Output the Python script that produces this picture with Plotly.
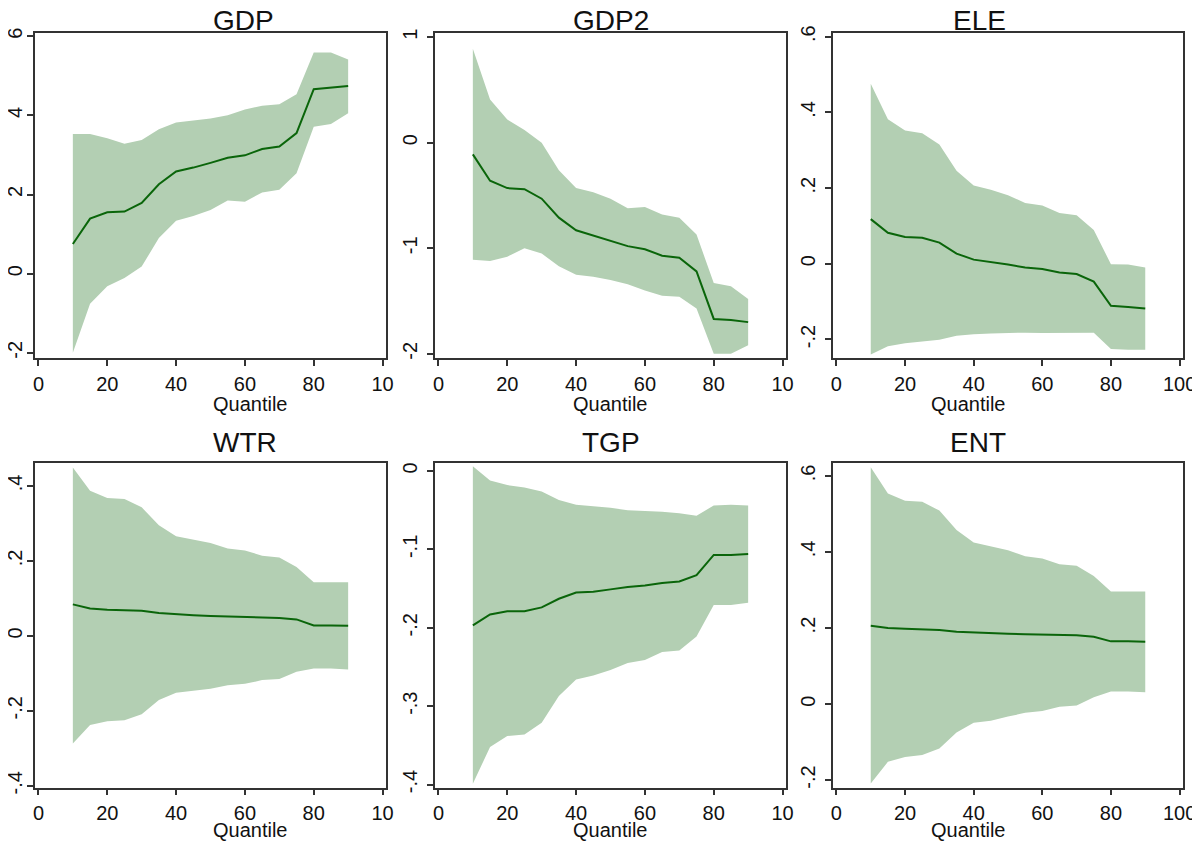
"""
Quantile coefficient plots (6 panels) with confidence bands
"""
import plotly.graph_objects as go

##========[ DATA ]========##
quantiles = [10, 15, 20, 25, 30, 35, 40, 45, 50, 55, 60, 65, 70, 75, 80, 85, 90]
panel_names = ["GDP", "GDP2", "ELE", "WTR", "TGP", "ENT"]

gdp_coef = [0.75, 1.39, 1.55, 1.57, 1.79, 2.26, 2.58, 2.68, 2.80, 2.93, 2.99, 3.15, 3.21, 3.55, 4.66, 4.70, 4.74]
gdp_hi = [3.53, 3.53, 3.42, 3.28, 3.38, 3.65, 3.82, 3.87, 3.92, 4.00, 4.15, 4.24, 4.28, 4.53, 5.59, 5.59, 5.41]
gdp_lo = [-2.00, -0.76, -0.32, -0.11, 0.18, 0.90, 1.34, 1.46, 1.61, 1.85, 1.82, 2.05, 2.12, 2.54, 3.71, 3.78, 4.05]

gdp2_coef = [-0.11, -0.36, -0.43, -0.44, -0.53, -0.71, -0.83, -0.88, -0.93, -0.98, -1.01, -1.07, -1.09, -1.22, -1.67, -1.68, -1.70]
gdp2_hi = [0.89, 0.41, 0.22, 0.12, 0.00, -0.26, -0.43, -0.47, -0.53, -0.62, -0.61, -0.68, -0.71, -0.87, -1.33, -1.36, -1.48]
gdp2_lo = [-1.11, -1.12, -1.08, -1.00, -1.05, -1.17, -1.25, -1.27, -1.30, -1.34, -1.40, -1.45, -1.46, -1.57, -2.00, -2.00, -1.92]

ele_coef = [0.118, 0.082, 0.071, 0.069, 0.056, 0.027, 0.011, 0.005, -0.002, -0.010, -0.014, -0.023, -0.027, -0.047, -0.111, -0.114, -0.118]
ele_hi = [0.476, 0.382, 0.352, 0.345, 0.315, 0.246, 0.207, 0.196, 0.181, 0.161, 0.154, 0.134, 0.128, 0.089, -0.001, -0.002, -0.010]
ele_lo = [-0.240, -0.218, -0.210, -0.206, -0.201, -0.190, -0.186, -0.184, -0.183, -0.182, -0.183, -0.183, -0.182, -0.182, -0.225, -0.227, -0.227]

wtr_coef = [0.084, 0.073, 0.070, 0.069, 0.067, 0.061, 0.057, 0.055, 0.053, 0.052, 0.051, 0.049, 0.048, 0.044, 0.028, 0.028, 0.027]
wtr_hi = [0.449, 0.387, 0.368, 0.365, 0.343, 0.295, 0.266, 0.258, 0.248, 0.233, 0.228, 0.214, 0.209, 0.184, 0.143, 0.143, 0.143]
wtr_lo = [-0.287, -0.238, -0.228, -0.225, -0.209, -0.171, -0.152, -0.147, -0.141, -0.132, -0.128, -0.118, -0.115, -0.096, -0.087, -0.087, -0.090]

tgp_coef = [-0.197, -0.183, -0.179, -0.179, -0.174, -0.163, -0.155, -0.154, -0.151, -0.148, -0.146, -0.143, -0.141, -0.133, -0.107, -0.107, -0.106]
tgp_hi = [0.006, -0.012, -0.018, -0.021, -0.026, -0.037, -0.043, -0.045, -0.047, -0.050, -0.051, -0.052, -0.054, -0.057, -0.044, -0.043, -0.044]
tgp_lo = [-0.399, -0.352, -0.338, -0.336, -0.321, -0.287, -0.266, -0.261, -0.254, -0.245, -0.241, -0.231, -0.229, -0.211, -0.171, -0.171, -0.168]

ent_coef = [0.206, 0.200, 0.198, 0.197, 0.195, 0.190, 0.188, 0.187, 0.185, 0.184, 0.183, 0.182, 0.181, 0.177, 0.165, 0.165, 0.164]
ent_hi = [0.623, 0.554, 0.535, 0.532, 0.509, 0.458, 0.425, 0.416, 0.405, 0.389, 0.383, 0.368, 0.364, 0.337, 0.296, 0.296, 0.296]
ent_lo = [-0.209, -0.152, -0.139, -0.134, -0.117, -0.075, -0.049, -0.044, -0.033, -0.023, -0.018, -0.007, -0.004, 0.018, 0.033, 0.033, 0.031]

# y tick values / labels (Stata style) per panel
ytick_vals = [
    [-2, 0, 2, 4, 6],
    [-2, -1, 0, 1],
    [-0.2, 0, 0.2, 0.4, 0.6],
    [-0.4, -0.2, 0, 0.2, 0.4],
    [-0.4, -0.3, -0.2, -0.1, 0],
    [-0.2, 0, 0.2, 0.4, 0.6],
]
ytick_text = [
    ["-2", "0", "2", "4", "6"],
    ["-2", "-1", "0", "1"],
    ["-.2", "0", ".2", ".4", ".6"],
    ["-.4", "-.2", "0", ".2", ".4"],
    ["-.4", "-.3", "-.2", "-.1", "0"],
    ["-.2", "0", ".2", ".4", ".6"],
]
xtick_vals = [0, 20, 40, 60, 80, 100]
# the right-most label is cut off by the neighbouring panel in the first two columns
xtick_text_cut = ["0", "20", "40", "60", "80", "10"]
xtick_text_full = ["0", "20", "40", "60", "80", "100"]

##========[ LAYOUT ]========##
coefs = [gdp_coef, gdp2_coef, ele_coef, wtr_coef, tgp_coef, ent_coef]
highs = [gdp_hi, gdp2_hi, ele_hi, wtr_hi, tgp_hi, ent_hi]
lows = [gdp_lo, gdp2_lo, ele_lo, wtr_lo, tgp_lo, ent_lo]
yranges = [[-2.13, 6.08], [-2.04, 1.04], [-0.249, 0.61], [-0.405, 0.462], [-0.404, 0.0106], [-0.22, 0.635]]

# the page has an 8px body margin, so the figure is 8px smaller than the window
OFF = 8
W, H = 1200 - OFF, 843 - OFF
col_px = [(35 - OFF, 386 - OFF), (435 - OFF, 786 - OFF), (833 - OFF, 1183 - OFF)]
row_px = [(33 - OFF, 358 - OFF), (462.7 - OFF, 787.7 - OFF)]
title_mid = [12, 442.5 - OFF]          # vertical centre of the panel titles
xlab_bottom = [417 - OFF, H]           # bottom of the "Quantile" label box
ylab_standoff = [-3, 2, 2]

BAND = "#b3cfb3"
LINE = "#0a650a"
FRAME = "#333333"
TXT = "#111111"
FONT = "Liberation Sans, Arial, sans-serif"

fig = go.Figure()

for i, name in enumerate(panel_names):
	r, c = divmod(i, 3)
	n = i + 1
	xa = "x" if n == 1 else f"x{n}"
	ya = "y" if n == 1 else f"y{n}"

	# confidence band
	fig.add_trace(go.Scatter(x=quantiles, y=lows[i], mode="lines", line=dict(width=0),
		xaxis=xa, yaxis=ya, showlegend=False, hoverinfo="skip"))
	fig.add_trace(go.Scatter(x=quantiles, y=highs[i], mode="lines", line=dict(width=0),
		fill="tonexty", fillcolor=BAND, xaxis=xa, yaxis=ya, showlegend=False, hoverinfo="skip"))
	# point estimate
	fig.add_trace(go.Scatter(x=quantiles, y=coefs[i], mode="lines", line=dict(color=LINE, width=2),
		xaxis=xa, yaxis=ya, showlegend=False))

	x0, x1 = col_px[c]
	y0, y1 = row_px[r]
	axis_style = dict(showline=True, linecolor=FRAME, linewidth=1.5, mirror=True, showgrid=False,
		zeroline=False, ticks="outside", ticklen=6, tickcolor=FRAME, tickwidth=1.5, automargin=False,
		tickfont=dict(family=FONT, size=20, color=TXT))
	fig.layout[f"xaxis{'' if n == 1 else n}"] = dict(
		axis_style, domain=[x0 / W, x1 / W], anchor=ya, range=[-1, 101],
		tickmode="array", tickvals=xtick_vals, ticklabelstandoff=1,
		ticktext=xtick_text_cut if c < 2 else xtick_text_full)
	fig.layout[f"yaxis{'' if n == 1 else n}"] = dict(
		axis_style, domain=[1 - y1 / H, 1 - y0 / H], anchor=xa, range=yranges[i],
		tickmode="array", tickvals=ytick_vals[i], ticktext=ytick_text[i], tickangle=-90,
		ticklabelstandoff=ylab_standoff[c])

	# panel title
	fig.add_annotation(text=name, x=(x0 + x1) / 2 / W, y=1 - title_mid[r] / H, xref="paper", yref="paper",
		showarrow=False, font=dict(family=FONT, size=28, color=TXT), yanchor="middle")
	# x axis title
	fig.add_annotation(text="Quantile", x=(x0 + x1) / 2 / W, y=1 - xlab_bottom[r] / H, xref="paper", yref="paper",
		showarrow=False, font=dict(family=FONT, size=20, color=TXT), yanchor="bottom")

fig.update_layout(width=W, height=H, margin=dict(l=0, r=0, t=0, b=0),
	paper_bgcolor="white", plot_bgcolor="white")

fig.write_html("out.html")
